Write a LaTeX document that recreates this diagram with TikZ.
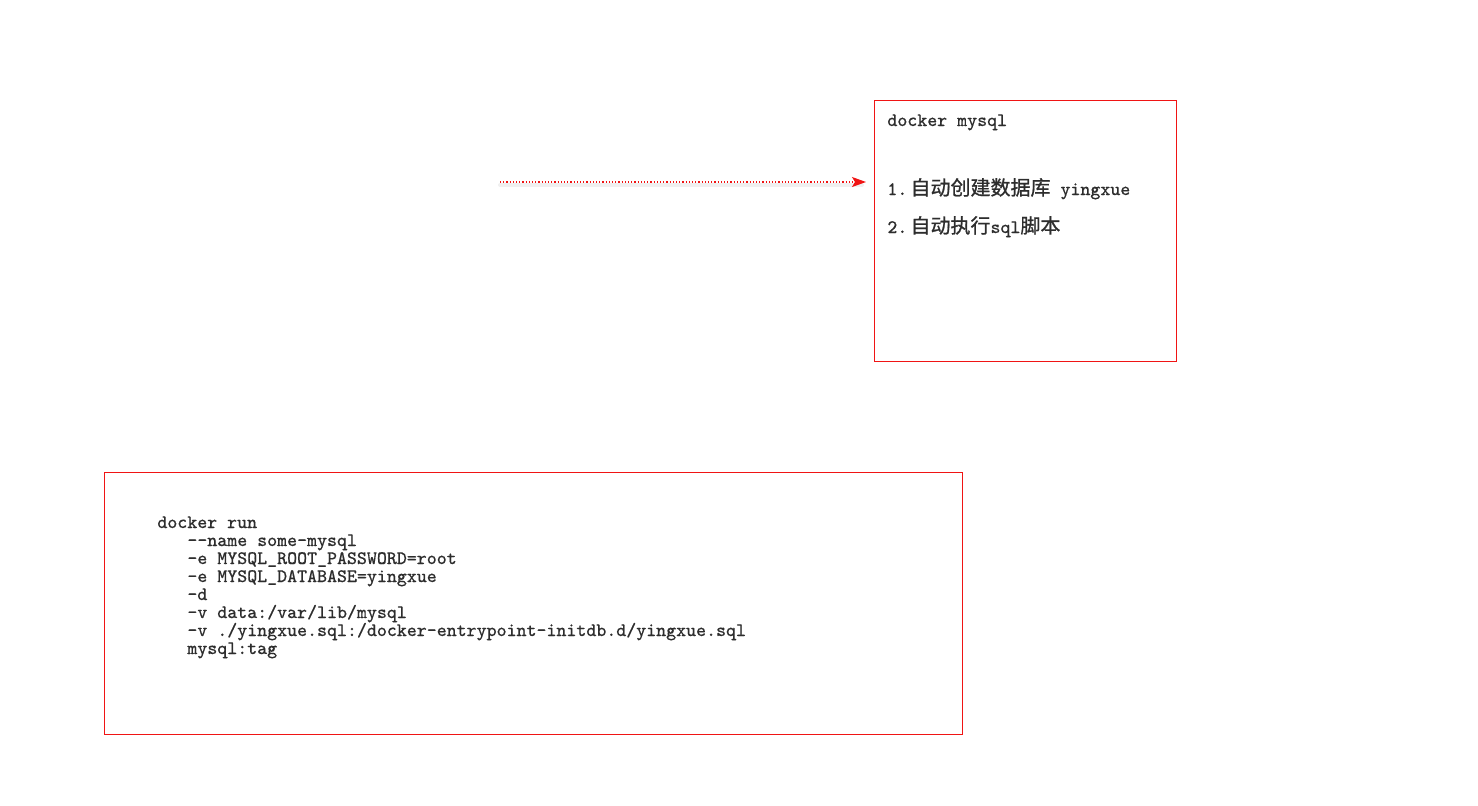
\documentclass[tikz,border=0pt]{standalone}
\usepackage{fontspec}
\setmonofont{Latin Modern Mono}[FakeBold=0.4]
\newfontfamily\cjk[FakeBold=1]{Noto Sans CJK SC}
\usetikzlibrary{arrows.meta}
\definecolor{boxred}{RGB}{240,20,20}
\definecolor{codegray}{RGB}{45,45,45}
\newcommand{\zh}[1]{{\cjk\fontsize{10}{12}\selectfont #1}}

\begin{document}
\begin{tikzpicture}[x=0.5pt,y=-0.5pt,
    frame_box/.style={draw=boxred,line width=0.5pt,inner sep=0pt,outer sep=0pt,anchor=north west},
    code_line/.style={anchor=base west,inner sep=0pt,text=codegray,
      font=\ttfamily\fontsize{9.5}{11}\selectfont},
    note_arrow/.style={boxred,densely dotted,line width=0.6pt,
      -{Stealth[length=7pt,width=5pt,inset=1.5pt]}},
    arrow_shadow/.style={gray!12,line width=2pt,line cap=round}]
  \useasboundingbox (0,0) rectangle (1478,805);
  % boxes
  \node[frame_box,minimum width=151pt,minimum height=130.5pt] (mysqlbox) at (874.5,100.5) {};
  \node[frame_box,minimum width=429pt,minimum height=131pt] (runbox) at (104.5,472.5) {};
  % right box text
  \node[code_line] (title) at (887,126) {docker mysql};
  \node[code_line] (step1) at (887,195) {1.\,\zh{自动创建数据库} yingxue};
  \node[code_line] (step2) at (887,233) {2.\,\zh{自动执行}sql\zh{脚本}};
  % docker run command
  \node[code_line] (c0) at (157,528) {docker run};
  \node[code_line] (c1) at (187,546) {-{}-name some-mysql};
  \node[code_line] (c2) at (187,564) {-e MYSQL\_ROOT\_PASSWORD=root};
  \node[code_line] (c3) at (187,582) {-e MYSQL\_DATABASE=yingxue};
  \node[code_line] (c4) at (187,600) {-d};
  \node[code_line] (c5) at (187,618) {-v data:/var/lib/mysql};
  \node[code_line] (c6) at (187,636) {-v ./yingxue.sql:/docker-entrypoint-initdb.d/yingxue.sql};
  \node[code_line] (c7) at (187,654) {mysql:tag};
  % arrow
  \coordinate (a0) at (500,182);
  \coordinate (a1) at (866,182);
  \draw[arrow_shadow] ([yshift=-1.5pt]a0) -- ([yshift=-1.5pt,xshift=-2pt]a1);
  \draw[note_arrow] (a0) -- (a1);
\end{tikzpicture}
\end{document}
